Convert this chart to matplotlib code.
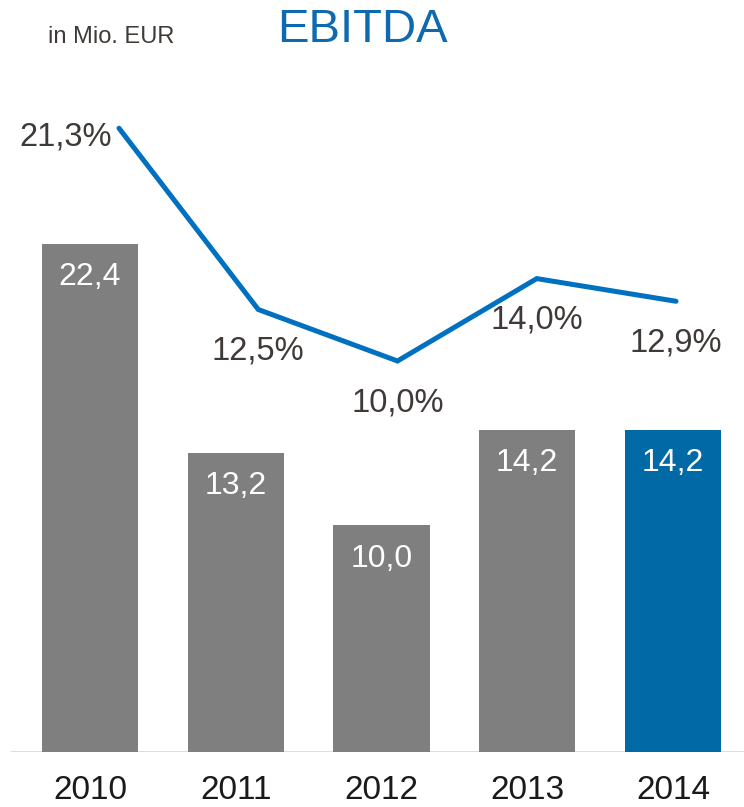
import matplotlib
matplotlib.use("Agg")
import matplotlib.pyplot as plt
from matplotlib import font_manager

years = ["2010", "2011", "2012", "2013", "2014"]
ebitda = [22.4, 13.2, 10.0, 14.2, 14.2]
margin = [21.3, 12.5, 10.0, 14.0, 12.9]
bar_colors = ["#7f7f7f", "#7f7f7f", "#7f7f7f", "#7f7f7f", "#0069a6"]

W, H = 744, 807
fig = plt.figure(figsize=(W / 100, H / 100), dpi=100)

names = {f.name for f in font_manager.fontManager.ttflist}
base = "Liberation Sans" if "Liberation Sans" in names else "DejaVu Sans"
narrow = "Liberation Sans Narrow" if "Liberation Sans Narrow" in names else base

# bar axes
ax = fig.add_axes([0, 55 / H, 1, 680.4 / H])
x = list(range(len(years)))
ax.bar(x, ebitda, width=0.66, color=bar_colors, zorder=2)
ax.set_xlim(-90 / 145.75, (W - 90) / 145.75)
ax.set_ylim(0, 30)
ax.axis("off")
ax.axhline(0, xmin=12 / W, xmax=1, color="#d9d9d9", lw=2, zorder=1)
for i, v in enumerate(ebitda):
    ax.annotate(f"{v:.1f}".replace(".", ","), (i, v), xytext=(0, -24),
                textcoords="offset points", ha="center", va="center",
                color="white", fontsize=23, family=base)
    ax.annotate(years[i], (i, 0), xytext=(0, -28), textcoords="offset points",
                ha="center", va="center", color="#1a1a1a", fontsize=24, family=narrow)

# line axes
lx = fig.add_axes([0, 0, 1, 1], facecolor="none")
lx.plot(x, margin, color="#0070c0", lw=3.6, solid_capstyle="round", solid_joinstyle="miter")
lx.set_xlim(-119 / 139.25, (W - 119) / 139.25)
lx.set_ylim(-240 / 20.6, (H - 240) / 20.6)
lx.axis("off")
for i, v in enumerate(margin):
    lab = f"{v:.1f}".replace(".", ",") + "%"
    if i == 0:
        lx.annotate(lab, (i, v), xytext=(-5, -6), textcoords="offset points",
                    ha="right", va="center", color="#3f3a38", fontsize=23.5, family=base)
    else:
        lx.annotate(lab, (i, v), xytext=(0, -30), textcoords="offset points",
                    ha="center", va="center", color="#3f3a38", fontsize=23.5, family=base)

fig.text(48 / W, 1 - 37 / H, "in Mio. EUR", ha="left", va="center",
         fontsize=17, color="#3f3a38", family=base)
fig.text(362 / W, 1 - 30 / H, "EBITDA", ha="center", va="center",
         fontsize=34, color="#0f69af", family=base)

fig.savefig("out.png", dpi=100)
